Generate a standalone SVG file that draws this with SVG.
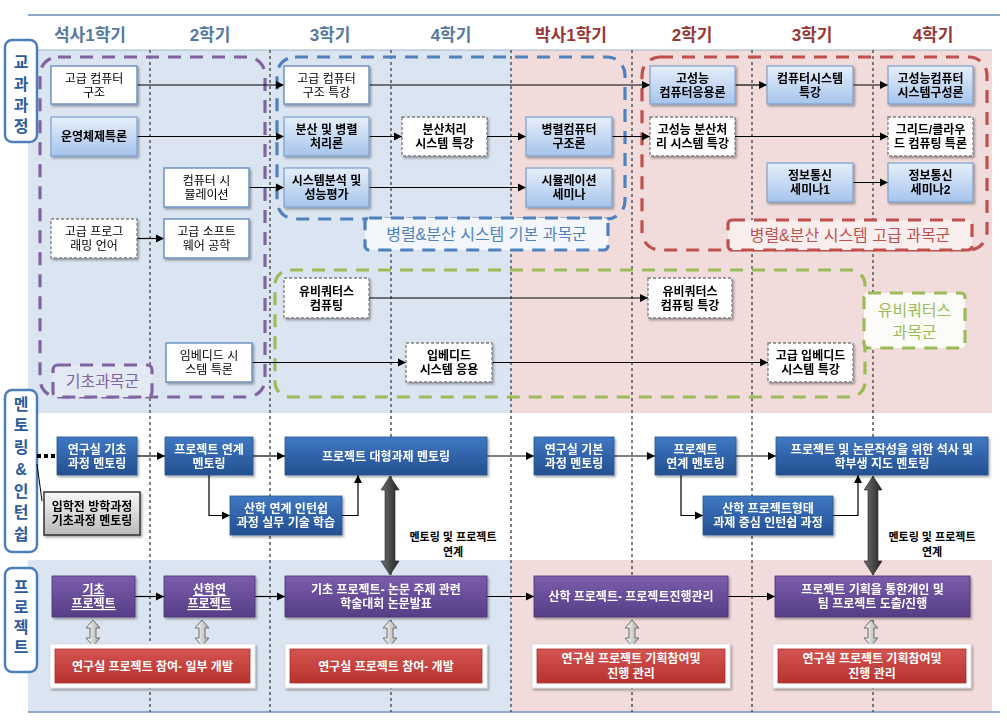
<svg xmlns="http://www.w3.org/2000/svg" width="1007" height="727" viewBox="0 0 1007 727">
<style>
text{font-family:"Liberation Sans","Noto Sans CJK KR",sans-serif;text-anchor:middle}
.t{font-size:12px;fill:#000}
.tb{font-size:12px;fill:#000;font-weight:bold}
.tw{font-size:12px;fill:#fff;font-weight:bold}
.hd{font-size:17px;font-weight:bold}
.hl{fill:#56799f}
.hr{fill:#953735}
.vl{font-size:16px;font-weight:bold;fill:#2e5c9a}
.vbox{fill:#fff;stroke:#4f7fba;stroke-width:2.5}
.bA{fill:#fff;stroke:#6f93c4;stroke-width:1.5}
.bB{fill:url(#gB);stroke:#7ea1cf;stroke-width:1.2}
.bC{fill:#fff;stroke:#7f7f7f;stroke-width:1.3;stroke-dasharray:3 2}
.bM{fill:url(#gM);stroke:#2a5590;stroke-width:0.8}
.bP{fill:url(#gP);stroke:#4b3373;stroke-width:0.8}
.bR{fill:url(#gR);stroke:#a83330;stroke-width:0.8}
.bW{fill:#fff;stroke:#d9d9d9;stroke-width:0.8}
.dv{stroke:#555;stroke-width:1.5;stroke-dasharray:3 3;fill:none}
.ln{stroke:#000;stroke-width:1.2;fill:none;marker-end:url(#ah)}
.grp{fill:none;stroke-width:3.2;stroke-dasharray:13 9}
.gl{font-size:16px}
.ml{font-size:11px;font-weight:bold;fill:#000}
</style>
<defs>
<linearGradient id="gB" x1="0" y1="0" x2="0" y2="1"><stop offset="0" stop-color="#e6effa"/><stop offset="1" stop-color="#a6c4ec"/></linearGradient>
<linearGradient id="gM" x1="0" y1="0" x2="0" y2="1"><stop offset="0" stop-color="#4079c3"/><stop offset="1" stop-color="#234f90"/></linearGradient>
<linearGradient id="gP" x1="0" y1="0" x2="0" y2="1"><stop offset="0" stop-color="#7b5dac"/><stop offset="1" stop-color="#573d86"/></linearGradient>
<linearGradient id="gR" x1="0" y1="0" x2="0" y2="1"><stop offset="0" stop-color="#d4544f"/><stop offset="1" stop-color="#b7322f"/></linearGradient>
<linearGradient id="gG" x1="0" y1="0" x2="0" y2="1"><stop offset="0" stop-color="#f8f8f8"/><stop offset="1" stop-color="#b9b9b9"/></linearGradient>
<linearGradient id="gT" x1="0" y1="0" x2="1" y2="0"><stop offset="0" stop-color="#6e6e6e"/><stop offset="1" stop-color="#262626"/></linearGradient>
<linearGradient id="gS" x1="0" y1="0" x2="1" y2="0"><stop offset="0" stop-color="#ffffff"/><stop offset="1" stop-color="#a8a8a8"/></linearGradient>
<filter id="sh" x="-10%" y="-20%" width="130%" height="160%"><feDropShadow dx="1.5" dy="1.8" stdDeviation="1.2" flood-color="#000" flood-opacity="0.35"/></filter>
<marker id="ah" viewBox="0 0 10 10" refX="10" refY="5" markerWidth="7" markerHeight="7" orient="auto"><path d="M0,0 L10,5 L0,10 z" fill="#000"/></marker>
</defs>

<g id="background">
<rect x="28" y="50" width="483" height="363" fill="#dbe5f1"/>
<rect x="511" y="50" width="481" height="363" fill="#f1dcdb"/>
<rect x="28" y="560" width="483" height="152" fill="#dbe5f1"/>
<rect x="511" y="560" width="481" height="152" fill="#f1dcdb"/>
<line x1="28" y1="50" x2="992" y2="50" stroke="#9fb5cf" stroke-width="1.2"/>
<line x1="28" y1="15" x2="1000" y2="15" stroke="#8eaacb" stroke-width="2"/>
<line x1="28" y1="712" x2="1000" y2="712" stroke="#8eaacb" stroke-width="2"/>
<g class="dv">
<line x1="150" y1="50" x2="150" y2="712"/>
<line x1="270" y1="50" x2="270" y2="712"/>
<line x1="391" y1="50" x2="391" y2="712"/>
<line x1="511" y1="50" x2="511" y2="712"/>
<line x1="632" y1="50" x2="632" y2="712"/>
<line x1="752" y1="50" x2="752" y2="712"/>
<line x1="873" y1="50" x2="873" y2="712"/>
</g>
</g>

<g id="headers">
<text class="hd hl" x="90" y="41">석사1학기</text>
<text class="hd hl" x="210" y="41">2학기</text>
<text class="hd hl" x="330" y="41">3학기</text>
<text class="hd hl" x="451" y="41">4학기</text>
<text class="hd hr" x="571" y="41">박사1학기</text>
<text class="hd hr" x="692" y="41">2학기</text>
<text class="hd hr" x="812" y="41">3학기</text>
<text class="hd hr" x="933" y="41">4학기</text>
</g>

<g id="side-labels">
<rect class="vbox" x="5" y="40" width="32" height="102" rx="7"/>
<text class="vl"><tspan x="21" y="68">교</tspan><tspan x="21" y="90">과</tspan><tspan x="21" y="111">과</tspan><tspan x="21" y="132">정</tspan></text>
<rect class="vbox" x="5" y="390" width="32" height="162" rx="7"/>
<text class="vl"><tspan x="21" y="410">멘</tspan><tspan x="21" y="431">토</tspan><tspan x="21" y="453">링</tspan><tspan x="21" y="475">&amp;</tspan><tspan x="21" y="497">인</tspan><tspan x="21" y="518">턴</tspan><tspan x="21" y="540">쉽</tspan></text>
<rect class="vbox" x="5" y="568" width="32" height="104" rx="7"/>
<text class="vl"><tspan x="21" y="593">프</tspan><tspan x="21" y="613">로</tspan><tspan x="21" y="633">젝</tspan><tspan x="21" y="653">트</tspan></text>
</g>

<g id="groups">
<rect class="grp" x="40" y="57" width="225" height="340" rx="18" stroke="#8064a2"/>
<rect class="grp" x="277" y="57" width="348" height="162" rx="18" stroke="#4f81bd"/>
<rect class="grp" x="642" y="57" width="345" height="193" rx="18" stroke="#c0504d"/>
<rect class="grp" x="275" y="270" width="590" height="127" rx="15" stroke="#9bbb59"/>
</g>

<g id="connectors">
<line class="ln" x1="137" y1="85" x2="284" y2="85"/>
<line class="ln" x1="137" y1="136.5" x2="284" y2="136.5"/>
<line class="ln" x1="249" y1="187.5" x2="284" y2="187.5"/>
<line class="ln" x1="137" y1="238.5" x2="164" y2="238.5"/>
<line class="ln" x1="369" y1="85" x2="650" y2="85"/>
<line class="ln" x1="369" y1="136.5" x2="402" y2="136.5"/>
<line class="ln" x1="487" y1="136.5" x2="526" y2="136.5"/>
<line class="ln" x1="612" y1="136.5" x2="650" y2="136.5"/>
<line class="ln" x1="369" y1="187.5" x2="526" y2="187.5"/>
<line class="ln" x1="735" y1="85" x2="767" y2="85"/>
<line class="ln" x1="853" y1="85" x2="888" y2="85"/>
<line class="ln" x1="735" y1="136.5" x2="888" y2="136.5"/>
<line class="ln" x1="853" y1="182.5" x2="888" y2="182.5"/>
<line class="ln" x1="369" y1="298" x2="648" y2="298"/>
<line class="ln" x1="252" y1="362.5" x2="406" y2="362.5"/>
<line class="ln" x1="492" y1="362.5" x2="768" y2="362.5"/>
<line x1="37" y1="456" x2="57" y2="456" stroke="#000" stroke-width="4" stroke-dasharray="4 3"/>
<line x1="37" y1="464" x2="42" y2="501" stroke="#000" stroke-width="1"/>
<line class="ln" x1="137" y1="456" x2="165" y2="456"/>
<line class="ln" x1="253" y1="456" x2="285" y2="456"/>
<line class="ln" x1="487" y1="456" x2="534" y2="456"/>
<line class="ln" x1="614" y1="456" x2="655" y2="456"/>
<line class="ln" x1="736" y1="456" x2="776" y2="456"/>
<path class="ln" d="M209,475 V515.5 H230"/>
<path class="ln" d="M342,515.5 H358 V475"/>
<path class="ln" d="M681,475 V515.5 H703"/>
<path class="ln" d="M833,515.5 H858 V475"/>
<path d="M390,476 L399,490 L395,490 L395,561 L399,561 L390,575 L381,561 L385,561 L385,490 L381,490 Z" fill="url(#gT)" stroke="#222" stroke-width="0.6"/>
<path d="M873,476 L882,490 L878,490 L878,561 L882,561 L873,575 L864,561 L868,561 L868,490 L864,490 Z" fill="url(#gT)" stroke="#222" stroke-width="0.6"/>
<line class="ln" x1="135" y1="596.5" x2="164" y2="596.5"/>
<line class="ln" x1="255" y1="596.5" x2="285" y2="596.5"/>
<line class="ln" x1="487" y1="596.5" x2="534" y2="596.5"/>
<line class="ln" x1="728" y1="596.5" x2="775" y2="596.5"/>
<g fill="url(#gS)" stroke="#6f6f6f" stroke-width="1">
<path d="M93,620 L100,628 L96,628 L96,638 L100,638 L93,646 L86,638 L90,638 L90,628 L86,628 Z"/>
<path d="M202,620 L209,628 L205,628 L205,638 L209,638 L202,646 L195,638 L199,638 L199,628 L195,628 Z"/>
<path d="M390,620 L397,628 L393,628 L393,638 L397,638 L390,646 L383,638 L387,638 L387,628 L383,628 Z"/>
<path d="M632,620 L639,628 L635,628 L635,638 L639,638 L632,646 L625,638 L629,638 L629,628 L625,628 Z"/>
<path d="M871,620 L878,628 L874,628 L874,638 L878,638 L871,646 L864,638 L868,638 L868,628 L864,628 Z"/>
</g>
</g>

<g id="group-labels">
<rect x="53" y="365" width="99" height="32" rx="5" fill="#e3eaf3" stroke="#8064a2" stroke-width="3.2" stroke-dasharray="13 9"/>
<text class="gl" x="102.5" y="387" fill="#8064a2">기초과목군</text>
<rect x="365" y="218" width="243" height="32" rx="4" fill="#f3f6fa" stroke="#4f81bd" stroke-width="3.2" stroke-dasharray="13 9"/>
<text class="gl" x="486.5" y="240" fill="#4f81bd">병렬&amp;분산 시스템 기본 과목군</text>
<rect x="728" y="220" width="244" height="30" rx="4" fill="#f9eeee" stroke="#c0504d" stroke-width="3.2" stroke-dasharray="13 9"/>
<text class="gl" x="850" y="241" fill="#c0504d">병렬&amp;분산 시스템 고급 과목군</text>
<rect x="864" y="293" width="101" height="55" rx="4" fill="#fbfcf7" stroke="#9bbb59" stroke-width="3.2" stroke-dasharray="13 9"/>
<text class="gl" fill="#9bbb59"><tspan x="914.5" y="316">유비쿼터스</tspan><tspan x="914.5" y="338">과목군</tspan></text>
</g>

<g id="n-gcs" filter="url(#sh)"><rect class="bA" x="51" y="66" width="86" height="38"/><text class="t"><tspan x="94" y="82.5">고급 컴퓨터</tspan><tspan x="94" y="96.5">구조</tspan></text></g>
<g id="n-os" filter="url(#sh)"><rect class="bB" x="51" y="117" width="86" height="39"/><text class="tb" x="94" y="141">운영체제특론</text></g>
<g id="n-sim" filter="url(#sh)"><rect class="bA" x="164" y="168" width="85" height="39"/><text class="t"><tspan x="206.5" y="185">컴퓨터 시</tspan><tspan x="206.5" y="199">뮬레이션</tspan></text></g>
<g id="n-gpl" filter="url(#sh)"><rect class="bC" x="51" y="219" width="86" height="39"/><text class="t"><tspan x="94" y="236">고급 프로그</tspan><tspan x="94" y="250">래밍 언어</tspan></text></g>
<g id="n-gse" filter="url(#sh)"><rect class="bA" x="164" y="219" width="85" height="39"/><text class="t"><tspan x="206.5" y="236">고급 소프트</tspan><tspan x="206.5" y="250">웨어 공학</tspan></text></g>
<g id="n-gcs2" filter="url(#sh)"><rect class="bA" x="284" y="66" width="85" height="38"/><text class="t"><tspan x="326.5" y="82.5">고급 컴퓨터</tspan><tspan x="326.5" y="96.5">구조 특강</tspan></text></g>
<g id="n-dpp" filter="url(#sh)"><rect class="bB" x="284" y="117" width="85" height="39"/><text class="tb"><tspan x="326.5" y="134">분산 및 병렬</tspan><tspan x="326.5" y="148">처리론</tspan></text></g>
<g id="n-sap" filter="url(#sh)"><rect class="bB" x="284" y="168" width="85" height="39"/><text class="tb"><tspan x="326.5" y="185">시스템분석 및</tspan><tspan x="326.5" y="199">성능평가</tspan></text></g>
<g id="n-dss" filter="url(#sh)"><rect class="bC" x="402" y="117" width="85" height="39"/><text class="tb"><tspan x="444.5" y="134">분산처리</tspan><tspan x="444.5" y="148">시스템 특강</tspan></text></g>
<g id="n-pca" filter="url(#sh)"><rect class="bB" x="526" y="117" width="86" height="39"/><text class="tb"><tspan x="569" y="134">병렬컴퓨터</tspan><tspan x="569" y="148">구조론</tspan></text></g>
<g id="n-ss" filter="url(#sh)"><rect class="bB" x="526" y="168" width="86" height="39"/><text class="tb"><tspan x="569" y="185">시뮬레이션</tspan><tspan x="569" y="199">세미나</tspan></text></g>
<g id="n-hpca" filter="url(#sh)"><rect class="bB" x="650" y="66" width="85" height="38"/><text class="tb"><tspan x="692.5" y="82.5">고성능</tspan><tspan x="692.5" y="96.5">컴퓨터응용론</tspan></text></g>
<g id="n-hpds" filter="url(#sh)"><rect class="bC" x="650" y="117" width="85" height="39"/><text class="tb"><tspan x="692.5" y="134">고성능 분산처</tspan><tspan x="692.5" y="148">리 시스템 특강</tspan></text></g>
<g id="n-css" filter="url(#sh)"><rect class="bB" x="767" y="66" width="86" height="38"/><text class="tb"><tspan x="810" y="82.5">컴퓨터시스템</tspan><tspan x="810" y="96.5">특강</tspan></text></g>
<g id="n-ic1" filter="url(#sh)"><rect class="bB" x="767" y="163" width="86" height="39"/><text class="tb"><tspan x="810" y="180">정보통신</tspan><tspan x="810" y="194">세미나1</tspan></text></g>
<g id="n-hpcs" filter="url(#sh)"><rect class="bB" x="888" y="66" width="85" height="38"/><text class="tb"><tspan x="930.5" y="82.5">고성능컴퓨터</tspan><tspan x="930.5" y="96.5">시스템구성론</tspan></text></g>
<g id="n-grid" filter="url(#sh)"><rect class="bC" x="888" y="117" width="85" height="39"/><text class="tb"><tspan x="930.5" y="134">그리드/클라우</tspan><tspan x="930.5" y="148">드 컴퓨팅 특론</tspan></text></g>
<g id="n-ic2" filter="url(#sh)"><rect class="bB" x="888" y="163" width="85" height="39"/><text class="tb"><tspan x="930.5" y="180">정보통신</tspan><tspan x="930.5" y="194">세미나2</tspan></text></g>
<g id="n-ubi" filter="url(#sh)"><rect class="bC" x="284" y="278" width="85" height="40"/><text class="tb"><tspan x="326.5" y="295.5">유비쿼터스</tspan><tspan x="326.5" y="309.5">컴퓨팅</tspan></text></g>
<g id="n-ubi2" filter="url(#sh)"><rect class="bC" x="648" y="278" width="84" height="40"/><text class="tb"><tspan x="690" y="295.5">유비쿼터스</tspan><tspan x="690" y="309.5">컴퓨팅 특강</tspan></text></g>
<g id="n-emb" filter="url(#sh)"><rect class="bA" x="166" y="343" width="86" height="39"/><text class="t"><tspan x="209" y="360">임베디드 시</tspan><tspan x="209" y="374">스템 특론</tspan></text></g>
<g id="n-emb2" filter="url(#sh)"><rect class="bC" x="406" y="343" width="86" height="39"/><text class="tb"><tspan x="449" y="360">입베디드</tspan><tspan x="449" y="374">시스템 응용</tspan></text></g>
<g id="n-emb3" filter="url(#sh)"><rect class="bC" x="768" y="343" width="85" height="39"/><text class="tb"><tspan x="810.5" y="360">고급 입베디드</tspan><tspan x="810.5" y="374">시스템 특강</tspan></text></g>

<g id="m-pre" filter="url(#sh)"><rect x="44" y="492" width="96" height="43" fill="url(#gG)" stroke="#333" stroke-width="1.5"/><text class="tb"><tspan x="92" y="511">입학전 방학과정</tspan><tspan x="92" y="525">기초과정 멘토링</tspan></text></g>
<g id="m1" filter="url(#sh)"><rect class="bM" x="57" y="437" width="80" height="38"/><text class="tw"><tspan x="97" y="453.5">연구실 기초</tspan><tspan x="97" y="467.5">과정 멘토링</tspan></text></g>
<g id="m2" filter="url(#sh)"><rect class="bM" x="165" y="437" width="88" height="38"/><text class="tw"><tspan x="209" y="453.5">프로젝트 연계</tspan><tspan x="209" y="467.5">멘토링</tspan></text></g>
<g id="m3" filter="url(#sh)"><rect class="bM" x="230" y="496" width="112" height="39"/><text class="tw"><tspan x="286" y="513">산학 연계 인턴쉽</tspan><tspan x="286" y="527">과정 실무 기술 학습</tspan></text></g>
<g id="m4" filter="url(#sh)"><rect class="bM" x="285" y="437" width="202" height="38"/><text class="tw" x="386" y="460.5">프로젝트 대형과제 멘토링</text></g>
<g id="m5" filter="url(#sh)"><rect class="bM" x="534" y="437" width="80" height="38"/><text class="tw"><tspan x="574" y="453.5">연구실 기본</tspan><tspan x="574" y="467.5">과정 멘토링</tspan></text></g>
<g id="m6" filter="url(#sh)"><rect class="bM" x="655" y="437" width="81" height="38"/><text class="tw"><tspan x="695.5" y="453.5">프로젝트</tspan><tspan x="695.5" y="467.5">연계 멘토링</tspan></text></g>
<g id="m7" filter="url(#sh)"><rect class="bM" x="703" y="496" width="130" height="39"/><text class="tw"><tspan x="768" y="513">산학 프로젝트형태</tspan><tspan x="768" y="527">과제 중심 인턴쉽 과정</tspan></text></g>
<g id="m8" filter="url(#sh)"><rect class="bM" x="776" y="437" width="212" height="38"/><text class="tw"><tspan x="882" y="453.5">프로젝트 및 논문작성을 위한 석사 및</tspan><tspan x="882" y="467.5">학부생 지도 멘토링</tspan></text></g>

<g id="link-labels">
<text class="ml"><tspan x="453" y="541">멘토링 및 프로젝트</tspan><tspan x="453" y="556">연계</tspan></text>
<text class="ml"><tspan x="932" y="541">멘토링 및 프로젝트</tspan><tspan x="932" y="556">연계</tspan></text>
</g>

<g id="p1" filter="url(#sh)"><rect class="bP" x="52" y="576" width="83" height="41"/><text class="tw" text-decoration="underline"><tspan x="93.5" y="594">기초</tspan><tspan x="93.5" y="608">프로젝트</tspan></text></g>
<g id="p2" filter="url(#sh)"><rect class="bP" x="164" y="576" width="91" height="41"/><text class="tw" text-decoration="underline"><tspan x="209.5" y="594">산학연</tspan><tspan x="209.5" y="608">프로젝트</tspan></text></g>
<g id="p3" filter="url(#sh)"><rect class="bP" x="285" y="576" width="202" height="41"/><text class="tw"><tspan x="386" y="594">기초 프로젝트- 논문 주제 관련</tspan><tspan x="386" y="608">학술대회 논문발표</tspan></text></g>
<g id="p4" filter="url(#sh)"><rect class="bP" x="534" y="576" width="194" height="41"/><text class="tw" x="631" y="601">산학 프로젝트- 프로젝트진행관리</text></g>
<g id="p5" filter="url(#sh)"><rect class="bP" x="775" y="576" width="195" height="41"/><text class="tw"><tspan x="872.5" y="594">프로젝트 기획을 통한개인 및</tspan><tspan x="872.5" y="608">팀 프로젝트 도출/진행</tspan></text></g>

<g id="r1"><rect class="bW" x="50" y="644" width="205" height="44" filter="url(#sh)"/><rect class="bR" x="55" y="649" width="195" height="34"/><text class="tw" x="152.5" y="670.5">연구실 프로젝트 참여- 일부 개발</text></g>
<g id="r2"><rect class="bW" x="285" y="644" width="202" height="44" filter="url(#sh)"/><rect class="bR" x="290" y="649" width="192" height="34"/><text class="tw" x="386" y="670.5">연구실 프로젝트 참여- 개발</text></g>
<g id="r3"><rect class="bW" x="532" y="644" width="198" height="44" filter="url(#sh)"/><rect class="bR" x="537" y="649" width="188" height="34"/><text class="tw"><tspan x="631" y="663">연구실 프로젝트 기획참여및</tspan><tspan x="631" y="677.5">진행 관리</tspan></text></g>
<g id="r4"><rect class="bW" x="773" y="644" width="198" height="44" filter="url(#sh)"/><rect class="bR" x="778" y="649" width="188" height="34"/><text class="tw"><tspan x="872" y="663">연구실 프로젝트 기획참여및</tspan><tspan x="872" y="677.5">진행 관리</tspan></text></g>
</svg>
